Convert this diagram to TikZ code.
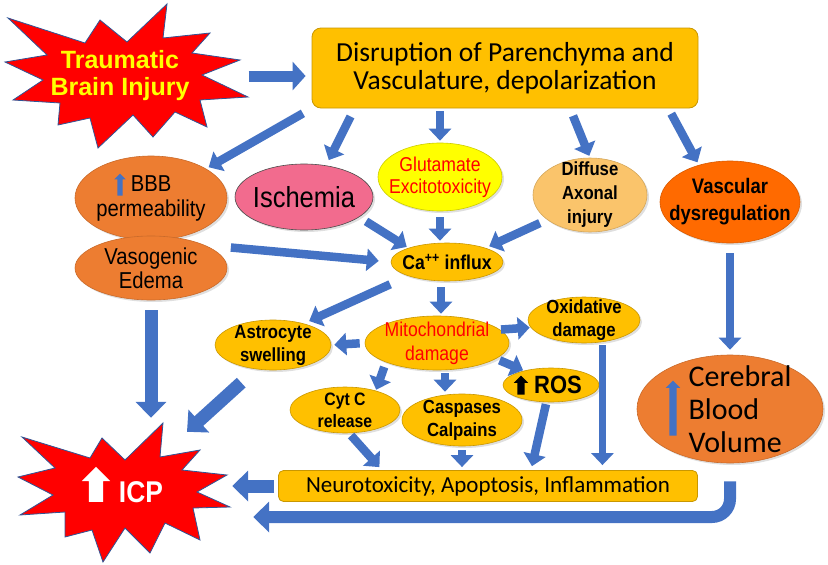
\documentclass[tikz,border=0pt]{standalone}
\usepackage{fontspec}
\setmainfont{Carlito}
\newfontfamily\arialn[FakeStretch=0.88]{Liberation Sans}
\newfontfamily\arialw{Liberation Sans}
\usetikzlibrary{arrows.meta,shapes.geometric,shapes.arrows,shadows,calc}
\definecolor{ArrBlue}{HTML}{4472C4}
\definecolor{Gold}{HTML}{FFC000}
\definecolor{GoldLine}{HTML}{C99700}
\definecolor{Pumpkin}{HTML}{ED7D31}
\definecolor{Vermil}{HTML}{FF6A00}
\definecolor{Rose}{HTML}{F26B8E}
\definecolor{Apricot}{HTML}{FAC46B}
\definecolor{StarRed}{HTML}{FF0000}
\definecolor{StarLine}{HTML}{2F5597}
\definecolor{Lemon}{HTML}{FFFF00}

\begin{document}
\begin{tikzpicture}[x=1pt,y=-1pt,
  every node/.style={inner sep=0pt, align=center},
  blob/.style={ellipse, draw=GoldLine, fill=Gold, line width=0.6pt, inner sep=-30pt,
               font=\arialn\bfseries\fontsize{19}{23}\selectfont,
               drop shadow={shadow xshift=2pt,shadow yshift=-2pt,opacity=0.25}},
  orng/.style={blob, fill=Pumpkin, draw=Pumpkin!85!black},
  gbox/.style={rectangle, rounded corners=9pt, draw=GoldLine, fill=Gold, line width=0.8pt},
  arr/.style={-{Triangle[length=12pt,width=22pt]}, line width=8.5pt, draw=ArrBlue},
  bigarr/.style={-{Triangle[length=16pt,width=30pt]}, line width=13pt, draw=ArrBlue},
  upicon/.style={single arrow, rotate=90, inner xsep=0pt},
  star/.style={fill=StarRed, draw=StarLine, line width=0.8pt, line join=miter},
]
\useasboundingbox (0,0) rectangle (828,565);
% stars
\filldraw[star] (8,18) -- (85,43) -- (100,20) -- (127,42) -- (167,4) -- (163,38)
  -- (210,33) -- (192,53) -- (240,60) -- (202,75) -- (248,97) -- (200,100)
  -- (207,127) -- (175,112) -- (153,137) -- (133,115) -- (98,148) -- (90,118)
  -- (58,125) -- (60,103) -- (13,100) -- (43,80) -- (5,62) -- (47,55) -- cycle;
\filldraw[star] (22,437) -- (90,458) -- (102,438) -- (125,460) -- (163,423) -- (160,457)
  -- (200,450) -- (182,470) -- (227,475) -- (197,492) -- (230,507) -- (193,508)
  -- (200,540) -- (165,523) -- (150,553) -- (125,528) -- (103,562) -- (92,530)
  -- (65,537) -- (65,512) -- (20,515) -- (53,495) -- (18,477) -- (55,468) -- cycle;
\node[minimum width=243pt, minimum height=144pt, text=Lemon,
      font=\arialw\bfseries\fontsize{25}{27}\selectfont] (tbi) at (127,76)
     {Traumatic\hspace*{14pt}\\Brain Injury\hspace*{14pt}};
\node[minimum width=212pt, minimum height=140pt, text=white,
      font=\arialn\bfseries\fontsize{30}{32}\selectfont] (icp) at (124,492) {\hspace*{34pt}ICP};
% boxes
\node[gbox, minimum width=386pt, minimum height=80pt, font=\fontsize{27.5}{28}\selectfont]
     (disr) at (505,68) {Disruption of Parenchyma and\\Vasculature, depolarization};
\node[gbox, rounded corners=5pt, minimum width=419pt, minimum height=31pt, font=\fontsize{23}{24}\selectfont]
     (neuro) at (488,486) {Neurotoxicity, Apoptosis, Inflammation};
% ellipses
\node[orng, minimum width=152pt, minimum height=84pt, font=\arialn\fontsize{23}{25}\selectfont]
     (bbb) at (151,198) {BBB\\permeability};
\node[orng, minimum width=152pt, minimum height=64pt, font=\arialn\fontsize{23}{24}\selectfont]
     (edema) at (151,268) {Vasogenic\\Edema};
\node[blob, fill=Rose, draw=black!70, minimum width=138pt, minimum height=66pt,
      font=\arialn\fontsize{29}{30}\selectfont] (isch) at (304,197) {Ischemia};
\node[blob, fill=Lemon, draw=Lemon!80!black, minimum width=124pt, minimum height=68pt, text=red,
      font=\arialn\fontsize{20}{22}\selectfont] (glut) at (440,177) {Glutamate\\Excitotoxicity};
\node[blob, fill=Apricot, draw=Apricot!85!black, minimum width=114pt, minimum height=74pt,
      font=\arialn\bfseries\fontsize{19}{24}\selectfont] (dai) at (590,195) {Diffuse\\Axonal\\injury};
\node[blob, fill=Vermil, draw=Vermil!85!black, minimum width=140pt, minimum height=82pt,
      font=\arialn\bfseries\fontsize{21}{27}\selectfont] (vasc) at (730,202) {Vascular\\dysregulation};
\node[blob, minimum width=112pt, minimum height=38pt, font=\arialn\bfseries\fontsize{20}{22}\selectfont]
     (ca) at (447,262) {Ca\textsuperscript{++} influx};
\node[blob, minimum width=144pt, minimum height=54pt, text=red,
      font=\arialn\fontsize{20}{24}\selectfont] (mito) at (437,343) {Mitochondrial\\damage};
\node[blob, minimum width=116pt, minimum height=50pt] (astro) at (273,345) {Astrocyte\\swelling};
\node[blob, minimum width=112pt, minimum height=46pt] (oxid) at (584,320) {Oxidative\\damage};
\node[blob, minimum width=110pt, minimum height=46pt, font=\arialn\bfseries\fontsize{18}{22}\selectfont]
     (cytc) at (345,410) {Cyt C\\release};
\node[blob, minimum width=120pt, minimum height=52pt] (casp) at (462,420) {Caspases\\Calpains};
\node[blob, minimum width=96pt, minimum height=34pt, font=\arialn\bfseries\fontsize{25}{26}\selectfont]
     (ros) at (551,385) {\hspace*{14pt}ROS};
\node[orng, minimum width=186pt, minimum height=108pt, align=left, font=\fontsize{30}{33}\selectfont]
     (cbv) at (730,409) {\hspace*{20pt}Cerebral\\\hspace*{20pt}Blood\\\hspace*{20pt}Volume};
% up arrows
\node[upicon, fill=ArrBlue, minimum height=22pt, inner ysep=2.5pt, single arrow head extend=3pt] (bbbup) at (120,186) {};
\node[upicon, fill=ArrBlue, minimum height=55pt, inner ysep=3.5pt, single arrow head extend=3.5pt] (cbvup) at (673,410) {};
\node[upicon, fill=black, minimum height=19pt, inner ysep=3.5pt, single arrow head extend=3.5pt] (rosup) at (521,387) {};
\node[upicon, fill=white, minimum height=35pt, inner ysep=7pt, single arrow head extend=7pt] (icpup) at (96,488) {};
% connectors
\draw[arr, line width=11pt, -{Triangle[length=13pt,width=28pt]}, draw=ArrBlue, shorten >=6pt]
     (tbi.east) -- (tbi.east -| disr.west);
\draw[arr, shorten <=10pt, shorten >=3pt] (disr.south west) -- (bbb.28);
\draw[arr, shorten <=9pt, shorten >=6pt] ([xshift=43pt]disr.south west) -- (isch.55);
\draw[arr, shorten <=3pt, shorten >=2pt] (glut.north |- disr.south) -- (glut.north);
\draw[arr, shorten <=8pt, shorten >=2pt] ([xshift=65pt]disr.south) -- (dai.north);
\draw[arr, shorten <=6pt, shorten >=3pt] ([xshift=-30pt]disr.south east) -- (vasc.130);
\draw[arr, shorten <=8pt, shorten >=2pt] (isch.-20) -- (ca.160);
\draw[arr, shorten <=26pt, shorten >=12pt] (edema.north east) -- (ca.west);
\draw[arr, shorten <=6pt, shorten >=2pt] (glut.south) -- (glut.south |- ca.north);
\draw[arr, shorten <=8pt, shorten >=4pt] (dai.-150) -- (ca.20);
\draw[arr, shorten <=10pt, shorten >=5pt] (vasc.south) -- (cbv.north);
\draw[arr, shorten <=6pt, shorten >=2pt] ([xshift=-6pt]ca.south) -- ([xshift=-6pt]ca.south |- mito.north);
\draw[arr, shorten <=20pt, shorten >=6pt] (ca.200) -- (astro.35);
\draw[arr, shorten <=5pt, shorten >=3pt] (mito.west) -- (astro.east);
\draw[arr, shorten <=1pt, shorten >=1pt] (mito.12) -- (oxid.188);
\draw[arr, shorten <=4pt, shorten >=1pt] (mito.-15) -- (ros.152);
\draw[arr, shorten <=5pt, shorten >=1pt] (mito.south west) -- (cytc.32);
\draw[arr, shorten <=3pt, shorten >=2pt] ([xshift=8pt]mito.south) -- ([xshift=8pt]mito.south |- casp.north);
\draw[arr, shorten <=3pt, shorten >=4pt] (cytc.-80) -- ([xshift=104pt]neuro.north west);
\draw[arr, shorten <=4pt, shorten >=3pt] (casp.south) -- (casp.south |- neuro.north);
\draw[arr, shorten <=2pt, shorten >=4pt] (ros.-105) -- ([xshift=253pt]neuro.north west);
\draw[arr, line width=7pt, shorten <=3pt, shorten >=5pt] (oxid.-50) -- (oxid.-50 |- neuro.north);
\draw[bigarr, shorten <=10pt, shorten >=4pt] (edema.south) -- (edema.south |- icp.north);
\draw[bigarr, shorten <=20pt] (astro.-125) -- ([xshift=63pt,yshift=-10pt]icp.north);
\draw[bigarr, shorten <=4pt, shorten >=2pt] (neuro.west) -- (icp.east |- neuro.west);
\draw[bigarr, line width=12pt, rounded corners=18pt, shorten <=18pt, shorten >=23pt]
     (cbv.south) |- ([yshift=-25pt]icp.east);
\end{tikzpicture}
\end{document}
